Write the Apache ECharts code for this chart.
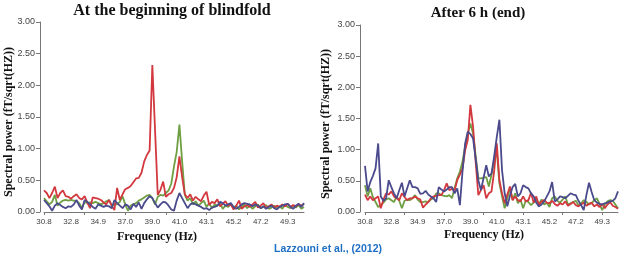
<!DOCTYPE html>
<html>
<head>
<meta charset="utf-8">
<script src="https://cdn.jsdelivr.net/npm/echarts@6/dist/echarts.min.js"></script>
<style>
html, body { margin: 0; background: #fff; }
#chart-container { width: 624px; height: 259px; }
</style>
</head>
<body>
<div id="chart-container"></div>
<script>
// tick labels, one every 10 samples
const freqTicks = ['30.8', '32.8', '34.9', '37.0', '39.0', '41.0', '43.1', '45.2', '47.2', '49.3'];

// "At the beginning of blindfold"
const beginRed = [0.34, 0.30, 0.22, 0.30, 0.40, 0.22, 0.30, 0.34, 0.25, 0.24,
    0.21, 0.25, 0.28, 0.22, 0.20, 0.25, 0.15, 0.06, 0.23, 0.22,
    0.21, 0.19, 0.15, 0.12, 0.19, 0.10, 0.03, 0.38, 0.19, 0.28,
    0.36, 0.38, 0.41, 0.47, 0.53, 0.54, 0.62, 0.80, 0.90, 0.97,
    2.32, 1.30, 0.27, 0.35, 0.48, 0.24, 0.28, 0.30, 0.38, 0.55,
    0.88, 0.55, 0.28, 0.22, 0.28, 0.18, 0.24, 0.20, 0.17, 0.26,
    0.32, 0.11, 0.16, 0.14, 0.20, 0.09, 0.13, 0.17, 0.10, 0.12,
    0.04, 0.10, 0.18, 0.05, 0.09, 0.11, 0.08, 0.12, 0.16, 0.07,
    0.10, 0.14, 0.06, 0.09, 0.12, 0.07, 0.10, 0.08, 0.12, 0.09,
    0.13, 0.08, 0.11, 0.09, 0.12, 0.10, 0.13];
const beginGreen = [0.22, 0.17, 0.12, 0.16, 0.27, 0.10, 0.15, 0.18, 0.19, 0.18,
    0.19, 0.18, 0.17, 0.14, 0.06, 0.16, 0.14, 0.15, 0.14, 0.16,
    0.14, 0.12, 0.14, 0.17, 0.19, 0.10, 0.12, 0.12, 0.16, 0.25,
    0.12, 0.02, 0.10, 0.12, 0.14, 0.18, 0.20, 0.23, 0.26, 0.27,
    0.22, 0.12, 0.24, 0.27, 0.26, 0.30, 0.34, 0.45, 0.72, 0.95,
    1.38, 0.80, 0.27, 0.18, 0.22, 0.12, 0.17, 0.10, 0.14, 0.18,
    0.08, 0.14, 0.06, 0.12, 0.10, 0.14, 0.05, 0.10, 0.08, 0.12,
    0.07, 0.10, 0.04, 0.08, 0.12, 0.06, 0.10, 0.05, 0.09, 0.12,
    0.06, 0.08, 0.11, 0.05, 0.07, 0.10, 0.06, 0.09, 0.05, 0.11,
    0.08, 0.06, 0.10, 0.07, 0.11, 0.05, 0.08];
const beginBlue = [0.19, 0.14, 0.09, 0.02, 0.10, 0.14, 0.11, 0.08, 0.06, 0.09,
    0.08, 0.12, 0.19, 0.10, 0.04, 0.19, 0.16, 0.12, 0.08, 0.05,
    0.12, 0.10, 0.08, 0.10, 0.09, 0.06, 0.19, 0.14, 0.10, 0.06,
    0.12, 0.10, 0.04, 0.13, 0.08, 0.15, 0.05, 0.14, 0.20, 0.25,
    0.22, 0.14, 0.07, 0.12, 0.16, 0.15, 0.10, 0.04, 0.02, 0.18,
    0.30, 0.22, 0.14, 0.06, 0.12, 0.14, 0.12, 0.10, 0.08, 0.05,
    0.06, 0.03, 0.07, 0.08, 0.10, 0.16, 0.14, 0.10, 0.12, 0.14,
    0.08, 0.05, 0.08, 0.12, 0.14, 0.13, 0.12, 0.09, 0.12, 0.10,
    0.06, 0.09, 0.05, 0.08, 0.10, 0.06, 0.04, 0.08, 0.10, 0.12,
    0.13, 0.08, 0.05, 0.10, 0.13, 0.08, 0.14];

// "After 6 h (end)"
const endRed = [0.28, 0.19, 0.25, 0.19, 0.22, 0.25, 0.06, 0.20, 0.30, 0.28,
    0.33, 0.25, 0.22, 0.19, 0.30, 0.24, 0.19, 0.22, 0.22, 0.25,
    0.22, 0.20, 0.07, 0.12, 0.16, 0.22, 0.25, 0.26, 0.27, 0.27,
    0.35, 0.46, 0.35, 0.37, 0.35, 0.51, 0.60, 0.70, 0.99, 1.16,
    1.72, 1.37, 0.80, 0.27, 0.35, 0.43, 0.22, 0.30, 0.33, 0.65,
    1.10, 0.51, 0.30, 0.14, 0.28, 0.41, 0.19, 0.25, 0.19, 0.17,
    0.25, 0.17, 0.19, 0.31, 0.15, 0.25, 0.11, 0.17, 0.19, 0.15,
    0.14, 0.18, 0.13, 0.10, 0.14, 0.12, 0.17, 0.10, 0.13, 0.16,
    0.11, 0.09, 0.12, 0.15, 0.10, 0.13, 0.15, 0.09, 0.12, 0.08,
    0.13, 0.06, 0.12, 0.16, 0.10, 0.08, 0.05];
const endGreen = [0.43, 0.25, 0.38, 0.24, 0.16, 0.08, 0.11, 0.15, 0.20, 0.22,
    0.19, 0.16, 0.25, 0.18, 0.06, 0.18, 0.20, 0.19, 0.22, 0.27,
    0.20, 0.16, 0.16, 0.17, 0.16, 0.20, 0.22, 0.30, 0.30, 0.27,
    0.26, 0.25, 0.27, 0.22, 0.38, 0.54, 0.65, 0.81, 1.05, 1.26,
    1.42, 1.26, 0.90, 0.54, 0.54, 0.55, 0.56, 0.41, 0.60, 0.81,
    0.99, 0.46, 0.25, 0.06, 0.22, 0.38, 0.19, 0.30, 0.14, 0.20,
    0.06, 0.18, 0.16, 0.11, 0.15, 0.20, 0.13, 0.20, 0.12, 0.15,
    0.08, 0.22, 0.25, 0.18, 0.15, 0.20, 0.25, 0.12, 0.14, 0.16,
    0.18, 0.11, 0.14, 0.19, 0.16, 0.12, 0.14, 0.19, 0.22, 0.13,
    0.03, 0.12, 0.17, 0.19, 0.18, 0.12, 0.06];
const endBlue = [0.74, 0.33, 0.48, 0.58, 0.70, 1.10, 0.25, 0.18, 0.22, 0.51,
    0.40, 0.30, 0.22, 0.35, 0.47, 0.25, 0.38, 0.51, 0.40, 0.40,
    0.38, 0.29, 0.30, 0.34, 0.28, 0.25, 0.22, 0.16, 0.40, 0.36,
    0.33, 0.36, 0.40, 0.40, 0.30, 0.38, 0.11, 0.65, 1.10, 1.29,
    1.25, 1.18, 0.85, 0.51, 0.35, 0.55, 0.75, 0.57, 0.62, 0.89,
    1.20, 1.48, 0.67, 0.30, 0.09, 0.26, 0.40, 0.45, 0.25, 0.30,
    0.43, 0.40, 0.38, 0.30, 0.25, 0.15, 0.09, 0.12, 0.17, 0.25,
    0.33, 0.48, 0.17, 0.20, 0.25, 0.24, 0.22, 0.26, 0.30, 0.28,
    0.27, 0.18, 0.11, 0.03, 0.27, 0.47, 0.32, 0.19, 0.15, 0.13,
    0.12, 0.14, 0.15, 0.17, 0.18, 0.22, 0.33];

const categories = beginRed.map((v, i) => i);

const RED = '#d2383e', GREEN = '#6e9f42', BLUE = '#4a4a8c';
const SERIF = '"Liberation Serif", "Times New Roman", serif';
const SANS = '"Liberation Sans", Arial, sans-serif';

function xAxisFor(gridIndex) {
    return {
        type: 'category',
        gridIndex: gridIndex,
        boundaryGap: false,
        data: categories,
        axisLine: { lineStyle: { color: '#777', width: 1 } },
        axisTick: { interval: 14, length: 3, lineStyle: { color: '#777' } },
        axisLabel: {
            interval: 9,
            margin: 6,
            fontSize: 8,
            color: '#444',
            fontFamily: SANS,
            formatter: (val, idx) => freqTicks[idx / 10] || ''
        },
        splitLine: { show: false }
    };
}

function yAxisFor(gridIndex, offset) {
    return {
        type: 'value',
        gridIndex: gridIndex,
        min: 0,
        max: 3,
        interval: 0.5,
        offset: offset,
        axisLine: { show: true, lineStyle: { color: '#777', width: 1 } },
        axisTick: { show: true, length: 4, lineStyle: { color: '#777' } },
        axisLabel: {
            margin: 5,
            fontSize: 9,
            color: '#444',
            fontFamily: SANS,
            formatter: v => v.toFixed(2)
        },
        splitLine: { show: false }
    };
}

function lineSeries(data, color, axisIndex) {
    return {
        type: 'line',
        data: data,
        xAxisIndex: axisIndex,
        yAxisIndex: axisIndex,
        symbol: 'none',
        lineStyle: { color: color, width: 1.8 },
        itemStyle: { color: color }
    };
}

function label(x, y, text, font, fill, rotation) {
    return {
        type: 'text',
        x: x,
        y: y,
        rotation: rotation || 0,
        style: {
            text: text,
            font: font,
            fill: fill || '#111',
            textAlign: 'center',
            textVerticalAlign: 'middle',
            align: 'center',
            verticalAlign: 'middle'
        }
    };
}

const myChart = echarts.init(document.getElementById('chart-container'));
const option = {
    animation: false,
    backgroundColor: '#fff',
    grid: [
        { left: 44, top: 22, width: 260, bottom: 47 },
        { left: 365, top: 25, width: 253, bottom: 47 }
    ],
    xAxis: [xAxisFor(0), xAxisFor(1)],
    yAxis: [yAxisFor(0, 4), yAxisFor(1, 5)],
    series: [
        lineSeries(beginGreen, GREEN, 0),
        lineSeries(beginRed, RED, 0),
        lineSeries(beginBlue, BLUE, 0),
        lineSeries(endGreen, GREEN, 1),
        lineSeries(endRed, RED, 1),
        lineSeries(endBlue, BLUE, 1)
    ],
    graphic: [
        label(172, 11, 'At the beginning of blindfold', 'bold 16px ' + SERIF),
        label(478, 13, 'After 6 h (end)', 'bold 15px ' + SERIF),
        label(9, 122, 'Spectral power (fT/sqrt(HZ))', 'bold 12px ' + SERIF, '#111', Math.PI / 2),
        label(326, 124, 'Spectral power (fT/sqrt(HZ))', 'bold 12px ' + SERIF, '#111', Math.PI / 2),
        label(157, 237, 'Frequency (Hz)', 'bold 12px ' + SERIF),
        label(484, 235, 'Frequency (Hz)', 'bold 12px ' + SERIF),
        label(328, 249, 'Lazzouni et al., (2012)', 'bold 10.5px ' + SANS, '#1f6fc5')
    ]
};

option && myChart.setOption(option);
</script>
</body>
</html>
